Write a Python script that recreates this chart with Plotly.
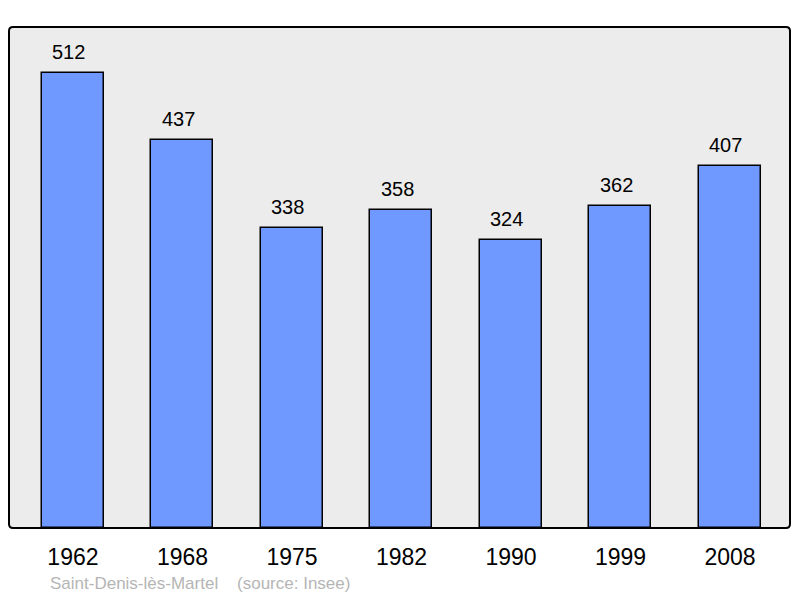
import plotly.graph_objects as go

years = ["1962", "1968", "1975", "1982", "1990", "1999", "2008"]
population = [512, 437, 338, 358, 324, 362, 407]
source_text = "Saint-Denis-lès-Martel    (source: Insee)"

# page has an 8px body margin, so the figure is sized to 792x590
W, H = 792, 590
L, R, T, B = 1, 10, 19, 70

fig = go.Figure()
fig.add_trace(go.Bar(
    x=list(range(len(years))), y=population,
    width=0.566,
    marker=dict(color="#7099ff", line=dict(color="#000000", width=1.5)),
    hoverinfo="skip",
))

for i, v in enumerate(population):
    fig.add_annotation(x=i, y=v, text=str(v), showarrow=False,
                       yanchor="bottom", yshift=8, xshift=-4,
                       font=dict(size=20, color="#000000"))

fig.add_annotation(xref="paper", yref="paper", x=(40 - L) / (W - L - R),
                   y=-(575 - (H - B)) / (H - T - B), xanchor="left", yanchor="middle",
                   text=source_text, showarrow=False,
                   font=dict(size=17, color="#b5b5b5"))

# rounded frame
rx = 4 / (W - L - R)
ry = 4 / (H - T - B)
path = (f"M {rx},0 L {1-rx},0 Q 1,0 1,{ry} L 1,{1-ry} Q 1,1 {1-rx},1 "
        f"L {rx},1 Q 0,1 0,{1-ry} L 0,{ry} Q 0,0 {rx},0 Z")
fig.add_shape(type="path", xref="paper", yref="paper", path=path,
              line=dict(color="#000000", width=2), layer="above")

fig.update_layout(
    width=W, height=H,
    margin=dict(l=L, r=R, t=T, b=B),
    paper_bgcolor="#ffffff", plot_bgcolor="#ececec",
    font=dict(family="Liberation Sans, Arial, sans-serif"),
    showlegend=False,
    bargap=0,
    xaxis=dict(range=[-0.584, 6.548], tickmode="array",
               tickvals=list(range(len(years))), ticktext=years,
               tickfont=dict(size=23, color="#000000"),
               ticks="outside", ticklen=8, tickcolor="rgba(0,0,0,0)",
               showgrid=False, zeroline=False, showline=False, fixedrange=True),
    yaxis=dict(range=[0, 563.7], showticklabels=False, showgrid=False,
               zeroline=False, showline=False, ticks="", fixedrange=True),
)

fig.write_html("out.html")
